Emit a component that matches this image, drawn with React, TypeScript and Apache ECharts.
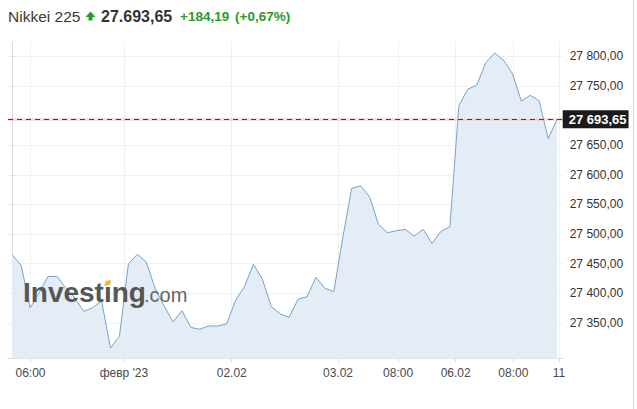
import React, { useEffect, useRef } from "react";
import * as echarts from "echarts";

// Nikkei 225 intraday closes (30-min steps), oldest first
const prices: number[] = [
  27464.6, 27446.9, 27375.3, 27400.6, 27428.4, 27428.4, 27409.0, 27392.1, 27369.4, 27375.8,
  27387.1, 27307.4, 27327.6, 27449.4, 27465.8, 27452.8, 27408.1, 27378.6, 27351.7, 27370.7,
  27342.4, 27339.4, 27344.9, 27344.9, 27348.3, 27387.9, 27411.2, 27448.9, 27423.8, 27377.5,
  27365.2, 27359.6, 27389.9, 27394.3, 27427.0, 27408.5, 27402.8, 27493.3, 27577.0, 27581.4,
  27562.9, 27516.3, 27502.2, 27505.6, 27507.9, 27496.6, 27507.9, 27484.3, 27504.5, 27512.3,
  27716.6, 27744.4, 27751.1, 27788.7, 27805.6, 27793.3, 27770.8, 27724.2, 27734.3, 27724.7,
  27661.0, 27693.65,
];

const lastPrice = 27693.65;

// x-axis tick positions (in sample-index units) and their labels
const xTickPositions: number[] = [2.04, 12.5, 24.57, 36.47, 43.2, 49.65, 56.1, 61.2];
const xTickLabels: string[] = ["06:00", "февр '23", "02.02", "03.02", "08:00", "06.02", "08:00", "11"];

// y-axis tick values
const yTicks: number[] = [27350, 27400, 27450, 27500, 27550, 27600, 27650, 27750, 27800];

const FONT = "'Liberation Sans', Arial, sans-serif";

function fmt(v: number): string {
  const s = v.toFixed(2);
  const [i, d] = s.split(".");
  return i.replace(/\B(?=(\d{3})+(?!\d))/g, " ") + "," + d;
}

export default function App() {
  const ref = useRef<HTMLDivElement | null>(null);

  useEffect(() => {
    document.body.style.margin = "0";
    if (!ref.current) return;
    const chart = echarts.init(ref.current, undefined, { renderer: "svg" });
    const data = prices.map((v, i) => [i, v]);

    chart.setOption({
      animation: false,
      backgroundColor: "#ffffff",
      grid: { left: 8, right: 74.3, top: 42, bottom: 50.5, containLabel: false },
      xAxis: {
        type: "value",
        min: -0.48,
        max: 61.63,
        axisLine: { show: true, lineStyle: { color: "#dcdcdc", width: 1 } },
        axisTick: { show: true, customValues: xTickPositions, length: 4, lineStyle: { color: "#dcdcdc" } },
        axisLabel: {
          customValues: xTickPositions,
          formatter: (v: number) => {
            const k = xTickPositions.findIndex((p) => Math.abs(p - v) < 1e-6);
            return k >= 0 ? xTickLabels[k] : "";
          },
          color: "#4a4a4a",
          fontSize: 12,
          fontFamily: FONT,
          margin: 8,
        },
        splitLine: { show: true, lineStyle: { color: "#f0f0f0", width: 1 } },
      },
      yAxis: {
        type: "value",
        position: "right",
        min: 27290,
        max: 27824,
        axisLine: { show: true, lineStyle: { color: "#dcdcdc", width: 1 } },
        axisTick: { show: true, customValues: yTicks, length: 3, lineStyle: { color: "#dcdcdc" } },
        axisLabel: {
          customValues: yTicks,
          formatter: (v: number) => fmt(v),
          color: "#333",
          fontSize: 12,
          fontFamily: FONT,
          margin: 7,
        },
        splitLine: { show: true, lineStyle: { color: "#f0f0f0", width: 1 } },
      },
      series: [
        {
          type: "line",
          data,
          showSymbol: false,
          symbol: "none",
          lineStyle: { color: "#76a3cb", width: 1 },
          areaStyle: { color: "#e4edf6", opacity: 1, origin: "start" },
          z: 2,
          markLine: {
            silent: true,
            symbol: "none",
            animation: false,
            data: [
              {
                yAxis: lastPrice,
                lineStyle: { color: "rgba(240,185,185,0.45)", width: 3, type: "solid" },
                label: { show: false },
              },
              {
                yAxis: lastPrice,
                lineStyle: { color: "#5a3434", width: 1, type: [5, 4] },
                label: {
                  show: true,
                  position: "end",
                  distance: 0,
                  formatter: () => fmt(lastPrice),
                  backgroundColor: "#1b1b1b",
                  color: "#ffffff",
                  fontSize: 13,
                  fontWeight: "bold",
                  fontFamily: FONT,
                  padding: [3, 2, 2, 6],
                },
              },
            ],
          },
        },
      ],
      graphic: [
        // title row
        {
          type: "text",
          x: 8,
          y: 16,
          style: { text: "Nikkei 225", font: `15.5px ${FONT}`, fill: "#3a3a3a", verticalAlign: "middle" },
        },
        {
          type: "polygon",
          shape: { points: [[90.5, 11.5], [95.5, 17], [85.5, 17]] },
          style: { fill: "#2a9a2a" },
        },
        { type: "rect", shape: { x: 88.5, y: 16.5, width: 4, height: 4 }, style: { fill: "#2a9a2a" } },
        {
          type: "text",
          x: 101,
          y: 16,
          style: { text: "27.693,65", font: `bold 16px ${FONT}`, fill: "#333", verticalAlign: "middle" },
        },
        {
          type: "text",
          x: 180,
          y: 16.5,
          style: { text: "+184,19", font: `bold 13.5px ${FONT}`, fill: "#2a9a2a", verticalAlign: "middle" },
        },
        {
          type: "text",
          x: 235,
          y: 16.5,
          style: { text: "(+0,67%)", font: `bold 13.5px ${FONT}`, fill: "#2a9a2a", verticalAlign: "middle" },
        },
        // watermark
        {
          type: "text",
          x: 23,
          y: 292.5,
          z: 100,
          style: { text: "Investing", font: `bold 28px ${FONT}`, fill: "#565656", verticalAlign: "middle" },
        },
        {
          type: "polygon",
          z: 101,
          shape: { points: [[104, 286], [106, 281], [111, 280], [110, 285]] },
          style: { fill: "#f5b335" },
        },
        {
          type: "text",
          x: 144,
          y: 295,
          z: 100,
          style: { text: ".com", font: `20px ${FONT}`, fill: "#666", verticalAlign: "middle" },
        },
        // outer right frame line
        {
          type: "line",
          shape: { x1: 633.5, y1: 0, x2: 633.5, y2: 409 },
          style: { stroke: "#d8d8d8", lineWidth: 1 },
        },
      ],
    });

    return () => chart.dispose();
  }, []);

  return <div ref={ref} style={{ width: 637, height: 409 }} />;
}
